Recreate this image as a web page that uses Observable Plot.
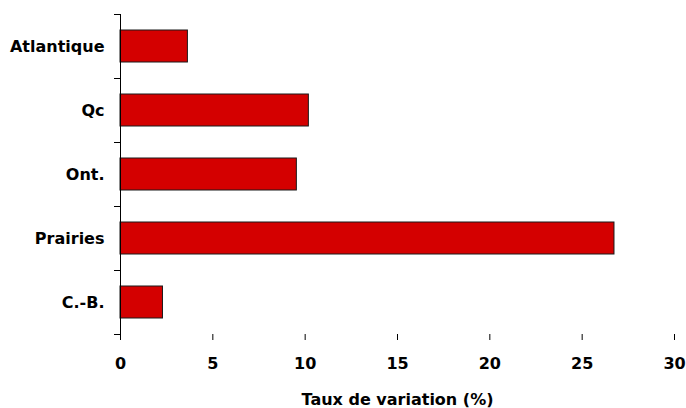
<!DOCTYPE html>
<html>
<head>
<meta charset="utf-8">
<script src="https://cdn.jsdelivr.net/npm/d3@7"></script>
<script src="https://cdn.jsdelivr.net/npm/@observablehq/plot@0.6"></script>
<style>
  html, body { margin: 0; padding: 0; background: #fff; }
</style>
</head>
<body>
<div id="chart"></div>
<script>
const categories = ["Atlantique", "Qc", "Ont.", "Prairies", "C.-B."];
const values = [3.65, 10.2, 9.55, 26.75, 2.3];
const xTicks = [0, 5, 10, 15, 20, 25, 30];
const xLabel = "Taux de variation (%)";

const data = categories.map((c, i) => ({region: c, value: values[i]}));

const W = 686, H = 408, mt = 14, mb = 74, ml = 120, mr = 12;
const step = (H - mt - mb) / categories.length;

const chart = Plot.plot({
  width: W,
  height: H,
  marginTop: mt,
  marginBottom: mb,
  marginLeft: ml,
  marginRight: mr,
  style: {fontFamily: "'DejaVu Sans', Verdana, sans-serif", fontWeight: "bold", fontSize: "16px", color: "#000", background: "#fff"},
  x: {domain: [0, 30]},
  y: {domain: categories, paddingInner: 0.5, paddingOuter: 0.25},
  marks: [
    Plot.barX(data, {x: "value", y: "region", fill: "#d40000", stroke: "#1a1a1a", strokeWidth: 1}),
    Plot.ruleX([0], {stroke: "#000"}),
    Plot.axisX(xTicks, {tickSize: 6, tickPadding: 17, label: xLabel, labelAnchor: "center", labelOffset: 70, labelArrow: "none", line: true, stroke: "#000", fill: "#000"}),
    Plot.axisY({tickSize: 0, tickPadding: 16, label: null, fill: "#000"}),
    Plot.axisY({tickSize: 6, tickFormat: () => "", label: null, dy: -step / 2, stroke: "#000"}),
    Plot.axisY([categories[categories.length - 1]], {tickSize: 6, tickFormat: () => "", label: null, dy: step / 2, stroke: "#000"})
  ]
});
document.getElementById("chart").appendChild(chart);
</script>
</body>
</html>
